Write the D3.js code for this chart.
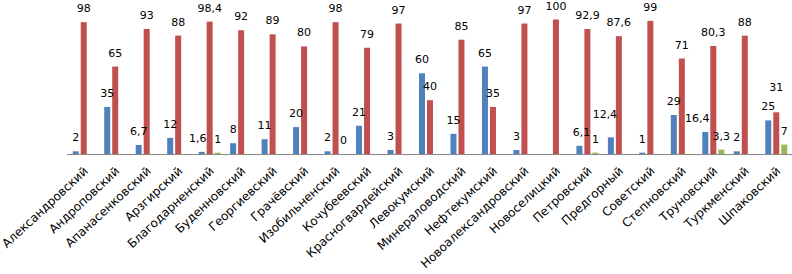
<!DOCTYPE html>
<html><head><meta charset="utf-8">
<script src="https://cdn.jsdelivr.net/npm/d3@7"></script>
<style>body{margin:0;background:#fff}svg{display:block}</style>
</head><body>
<svg id="c" width="792" height="274"></svg>
<script>
const categories = ["Александровский","Андроповский","Апанасенковский","Арзгирский","Благодарненский","Буденновский","Георгиевский","Грачёвский","Изобильненский","Кочубеевский","Красногвардейский","Левокумский","Минераловодский","Нефтекумский","Новоалександровский","Новоселицкий","Петровский","Предгорный","Советский","Степновский","Труновский","Туркменский","Шпаковский"];
const seriesBlue  = [2,35,6.7,12,1.6,8,11,20,2,21,3,60,15,65,3,null,6.1,12.4,1,29,16.4,2,25];
const seriesRed   = [98,65,93,88,98.4,92,89,80,98,79,97,40,85,35,97,100,92.9,87.6,99,71,80.3,88,31];
const seriesGreen = [null,null,null,null,1,null,null,null,0,null,null,null,null,null,null,null,1,null,null,null,3.3,null,7];
const seriesNames = ["blue","red","green"];
const colors = {blue:"#4F81BD", red:"#C0504D", green:"#9BBB59"};

const data = categories.map((c,i)=>({cat:c, vals:[
  {cat:c, s:"blue", v:seriesBlue[i]},{cat:c, s:"red", v:seriesRed[i]},{cat:c, s:"green", v:seriesGreen[i]}]}));

// manual nudges of data labels that were moved by hand in the original
const nudge = {"Благодарненский|blue":[-4,0],"Предгорный|blue":[-6,-9],"Труновский|blue":[-8,0],"Шпаковский|red":[0,-11],"Петровский|blue":[2,0]};

const svg = d3.select("#c");
const x0 = d3.scaleBand().domain(categories).range([68, 792]);
const pad = (x0.bandwidth()-22)/2;
const x1 = d3.scaleBand().domain(seriesNames).range([pad, x0.bandwidth()-pad]).paddingInner(0.25);
const y = d3.scaleLinear().domain([0,100]).range([154, 19.5]);

const g = svg.selectAll("g.cat").data(data).join("g").attr("class","cat")
  .attr("transform", d=>`translate(${x0(d.cat)},0)`);

g.selectAll("rect").data(d=>d.vals.filter(v=>v.v!==null)).join("rect")
  .attr("x", d=>x1(d.s)).attr("width", x1.bandwidth())
  .attr("y", d=>y(d.v)).attr("height", d=>y(0)-y(d.v))
  .attr("fill", d=>colors[d.s]);

svg.append("line").attr("x1",67).attr("x2",792).attr("y1",y(0)+0.5).attr("y2",y(0)+0.5)
  .attr("stroke","#868686").attr("stroke-width",1);

g.selectAll("text.lbl").data(d=>d.vals.filter(v=>v.v!==null)).join("text").attr("class","lbl")
  .attr("x", d=>x1(d.s)+x1.bandwidth()/2+((nudge[d.cat+"|"+d.s]||[0,0])[0]))
  .attr("y", d=>y(d.v)-10+((nudge[d.cat+"|"+d.s]||[0,0])[1]))
  .attr("text-anchor","middle").attr("font-family","DejaVu Sans").attr("font-size",11)
  .attr("fill","#000").text(d=>String(d.v).replace(".",","));

svg.selectAll("text.xl").data(categories).join("text").attr("class","xl")
  .attr("transform", d=>`translate(${x0(d)+x0.bandwidth()/2+5},172) rotate(-43)`)
  .attr("text-anchor","end").attr("font-family","DejaVu Sans").attr("font-size",12)
  .attr("fill","#000").text(d=>d);
</script>
</body></html>
